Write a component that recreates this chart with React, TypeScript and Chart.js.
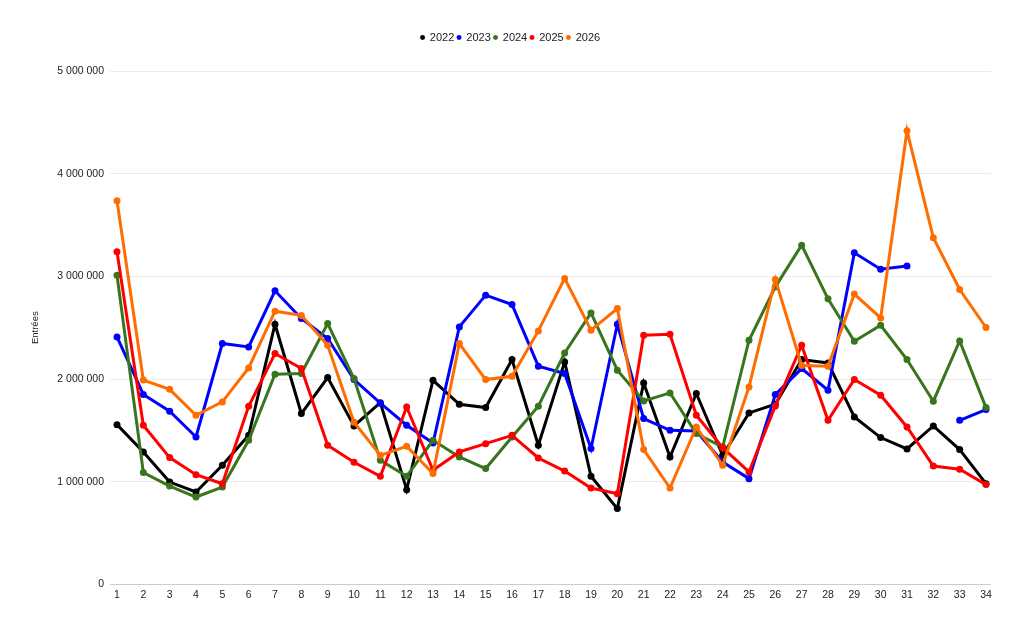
import { useEffect, useRef } from 'react';
import { Chart, registerables } from 'chart.js';

Chart.register(...registerables);

const weeks = [
	1, 2, 3, 4, 5, 6, 7, 8, 9, 10, 11, 12, 13, 14, 15, 16, 17, 18, 19, 20, 21, 22, 23, 24, 25, 26, 27, 28, 29, 30, 31,
	32, 33, 34,
];

const entrees2022 = [
	1556000, 1290000, 997000, 900000, 1160000, 1452000, 2534000, 1664000, 2015000, 1543000, 1770000, 923000, 1988000,
	1754000, 1722000, 2190000, 1355000, 2167000, 1053000, 738000, 1962000, 1241000, 1859000, 1257000, 1670000, 1754000,
	2190000, 2157000, 1631000, 1430000, 1319000, 1543000, 1313000, 981000,
];

const entrees2023 = [
	2410000, 1850000, 1686000, 1436000, 2346000, 2313000, 2859000, 2590000, 2395000, 1995000, 1765000, 1550000, 1377000,
	2508000, 2817000, 2726000, 2125000, 2054000, 1323000, 2534000, 1615000, 1501000, 1494000, 1192000, 1030000, 1849000,
	2102000, 1891000, 3229000, 3070000, 3102000, null, 1598000, 1703000,
];

const entrees2024 = [
	3010000, 1090000, 958000, 851000, 948000, 1403000, 2047000, 2054000, 2541000, 2005000, 1209000, 1053000, 1403000,
	1241000, 1128000, 1436000, 1735000, 2254000, 2644000, 2086000, 1787000, 1865000, 1469000, 1338000, 2378000, 2898000,
	3304000, 2781000, 2368000, 2524000, 2190000, 1784000, 2371000, 1722000,
];

const entrees2025 = [
	3240000, 1550000, 1235000, 1069000, 980000, 1735000, 2249000, 2102000, 1355000, 1190000, 1053000, 1728000, 1111000,
	1290000, 1371000, 1452000, 1231000, 1104000, 939000, 884000, 2427000, 2437000, 1647000, 1332000, 1095000, 1738000,
	2329000, 1598000, 1995000, 1842000, 1533000, 1153000, 1121000, 972000,
];

const entrees2026 = [
	3736000, 1990000, 1900000, 1647000, 1777000, 2108000, 2661000, 2620000, 2329000, 1580000, 1257000, 1345000, 1079000,
	2346000, 1995000, 2027000, 2469000, 2980000, 2476000, 2687000, 1313000, 939000, 1533000, 1160000, 1923000, 2970000,
	2132000, 2125000, 2827000, 2595000, 4418000, 3377000, 2872000, 2502000,
];

const series = [
	{ label: '2022', values: entrees2022, color: '#000000' },
	{ label: '2023', values: entrees2023, color: '#0000ff' },
	{ label: '2024', values: entrees2024, color: '#38761d' },
	{ label: '2025', values: entrees2025, color: '#ff0000' },
	{ label: '2026', values: entrees2026, color: '#ff6d01' },
];

const FONT = '"Liberation Sans", Arial, sans-serif';

// espace sous la légende + légende centrée sur toute la largeur
const legendSpacer = {
	id: 'legendSpacer',
	beforeInit(chart: any) {
		const legend = chart.legend;
		if (!legend) return;
		const originalFit = legend.fit;
		legend.fit = function () {
			originalFit.call(this);
			this.height += 18;
		};
	},
	beforeDraw(chart: any) {
		const legend = chart.legend;
		if (!legend) return;
		legend.left = 0;
		legend.right = chart.width - 3;
	},
};

function formatNumber(v: number) {
	return String(v).replace(/\B(?=(\d{3})+(?!\d))/g, ' ');
}

function EntriesChart() {
	const chartRef = useRef<HTMLCanvasElement | null>(null);

	useEffect(() => {
		if (!chartRef.current) return;

		const existing = Chart.getChart(chartRef.current);
		if (existing) existing.destroy();

		const chart = new Chart(chartRef.current, {
			type: 'line',
			data: {
				datasets: series.map((s, i) => ({
					label: s.label,
					data: weeks.map((w, j) => ({ x: w, y: s.values[j] })),
					borderColor: s.color,
					backgroundColor: s.color,
					pointBackgroundColor: s.color,
					pointBorderColor: s.color,
					borderWidth: 3,
					pointRadius: 3.5,
					pointBorderWidth: 0,
					pointHoverRadius: 4,
					tension: 0,
					spanGaps: false,
					order: series.length - i,
				})),
			},
			options: {
				animation: false,
				responsive: true,
				maintainAspectRatio: false,
				layout: {
					padding: { top: 29, right: 33, bottom: 29, left: 0 },
				},
				plugins: {
					legend: {
						position: 'top',
						labels: {
							usePointStyle: true,
							pointStyle: 'circle',
							boxWidth: 3.5,
							boxHeight: 3.5,
							padding: 3,
							color: '#222222',
							font: { family: FONT, size: 11 },
							sort: (a: any, b: any) => a.datasetIndex - b.datasetIndex,
							generateLabels: (c: any) =>
								Chart.defaults.plugins.legend.labels
									.generateLabels(c)
									.map((item: any) => ({ ...item, lineWidth: 0 })),
						},
					},
					tooltip: { enabled: false },
				},
				scales: {
					x: {
						type: 'linear',
						min: 0.734,
						max: 34.19,
						grid: { display: false, drawTicks: false },
						border: { display: false },
						ticks: {
							stepSize: 1,
							includeBounds: false,
							autoSkip: false,
							maxRotation: 0,
							padding: 4,
							color: '#222222',
							font: { family: FONT, size: 10.5 },
							callback: (v: any) => String(v),
						},
					},
					y: {
						min: 0,
						max: 5000000,
						afterFit: (scale: any) => {
							scale.width = 110;
						},
						grid: {
							drawTicks: false,
							color: (ctx: any) => (ctx.tick && ctx.tick.value === 0 ? '#cccccc' : '#ebebeb'),
						},
						border: { display: false },
						ticks: {
							stepSize: 1000000,
							padding: 6,
							color: '#222222',
							font: { family: FONT, size: 10.5 },
							callback: (v: any) => formatNumber(Number(v)),
						},
						title: {
							display: true,
							text: 'Entrées',
							color: '#222222',
							padding: { top: 30, bottom: 0 },
							font: { family: FONT, size: 9.5 },
						},
					},
				},
			},
			plugins: [legendSpacer],
		});

		return () => {
			chart.destroy();
		};
	}, []);

	return (
		<div style={{ width: '1024px', height: '634px', background: '#ffffff' }}>
			<canvas ref={chartRef}></canvas>
		</div>
	);
}

export default function App() {
	useEffect(() => {
		document.body.style.margin = '0';
	}, []);
	return <EntriesChart />;
}
